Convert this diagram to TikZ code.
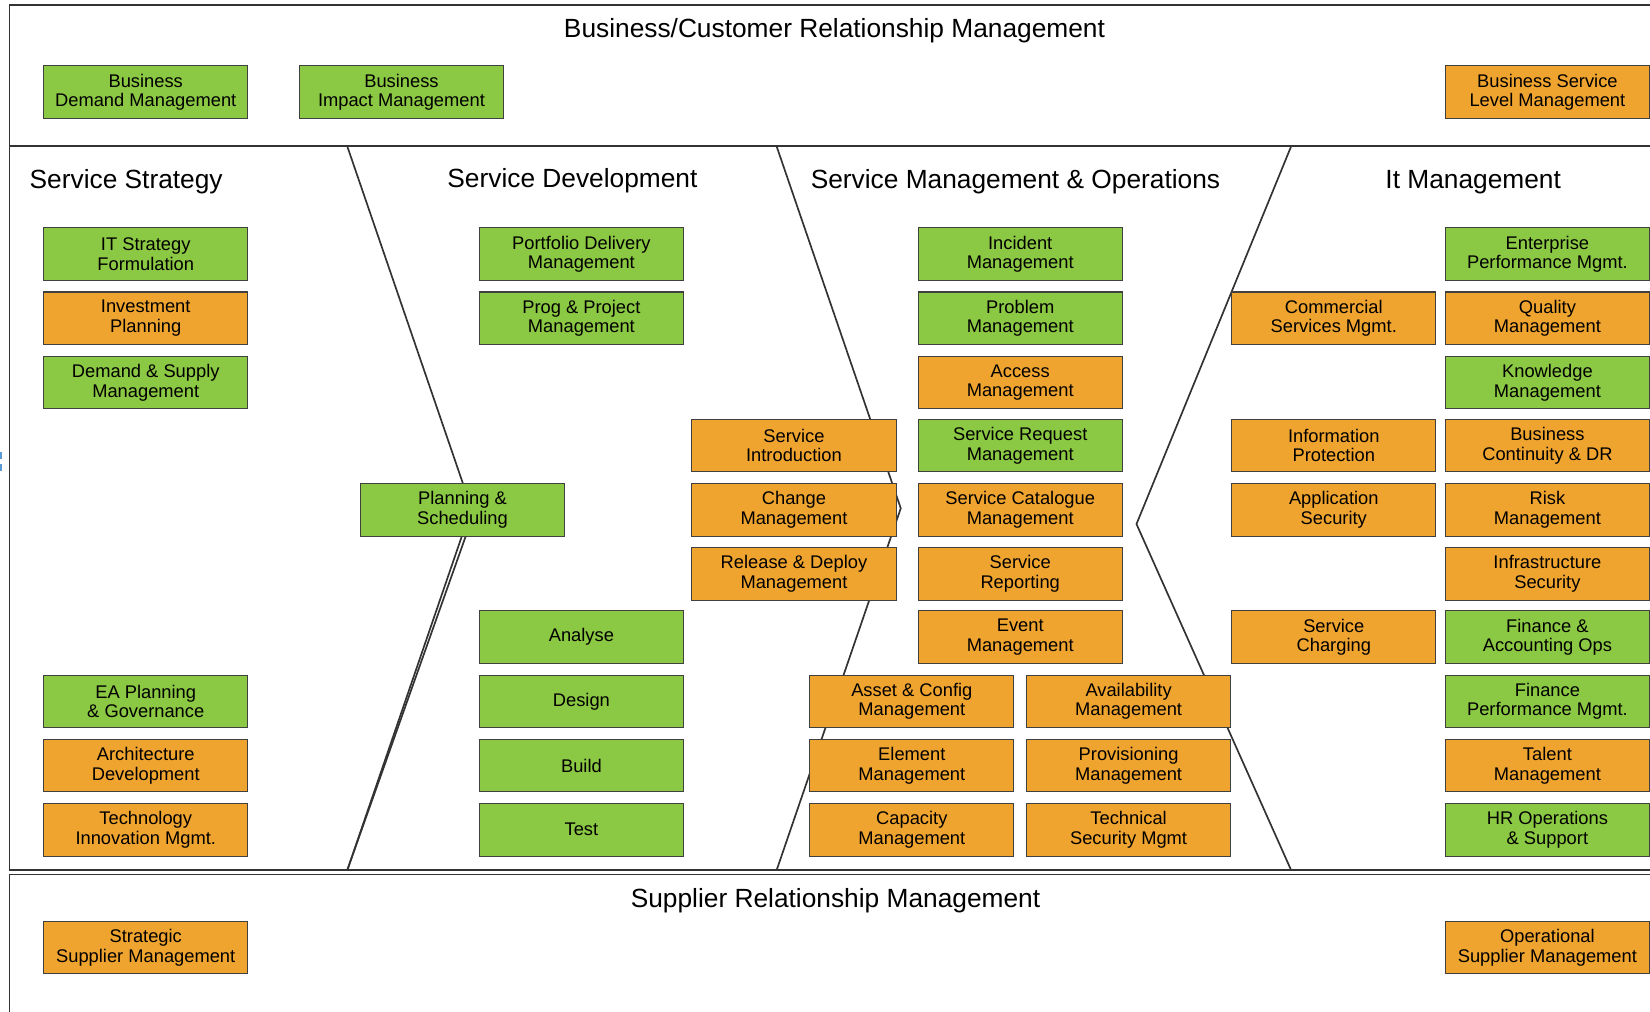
\documentclass[tikz,border=0pt]{standalone}
\usepackage{fontspec}
\setmainfont{Liberation Sans}
\definecolor{boxgreen}{HTML}{8BC843}
\definecolor{boxorange}{HTML}{F0A430}
\definecolor{boxline}{HTML}{404040}
\definecolor{frameline}{HTML}{333333}
\definecolor{selblue}{HTML}{5B9BD5}
\tikzset{
  itbox/.style={draw=boxline, line width=1pt, minimum width=194pt, minimum height=50pt,
    inner sep=0pt, align=center, anchor=north west, text=black,
    font=\fontsize{17.4}{18.6}\selectfont},
  gbox/.style={itbox, fill=boxgreen},
  obox/.style={itbox, fill=boxorange},
  frame/.style={draw=frameline, line width=1.6pt},
  divider/.style={draw=frameline, line width=1.6pt, line join=miter},
  heading/.style={font=\fontsize{25}{28}\selectfont, text=black, inner sep=0pt}
}
\begin{document}
\begin{tikzpicture}[x=1pt,y=-1pt]
\useasboundingbox (0,0) rectangle (1568,961);
\clip (0,0) rectangle (1568,961);
\fill[white] (0,0) rectangle (1568,961);
% frames
\draw[frame] (9,5) rectangle (1600,139);
\draw[frame] (9,139) rectangle (1600,827);
\draw[frame] (9,831) rectangle (1600,1000);
% selection marks
\fill[selblue] (0,430) rectangle (2,436);
\fill[selblue] (0,441) rectangle (2,448);
% dividers
\coordinate (d1t) at (330,139); \coordinate (d1a) at (448,483); \coordinate (d1b) at (330,827);
\coordinate (d1c) at (452,483);
\coordinate (d2t) at (738,139); \coordinate (d2a) at (856,483); \coordinate (d2b) at (738,827);
\coordinate (d3t) at (1227,139); \coordinate (d3a) at (1080,498); \coordinate (d3b) at (1227,827);
\draw[divider] (d1t) -- (d1a) -- (d1b);
\draw[divider] (d1c) -- (d1b);
\draw[divider] (d2t) -- (d2a) -- (d2b);
\draw[divider] (d3t) -- (d3a) -- (d3b);
% headings
\node[heading] (h0) at (793,29) {Business/Customer Relationship Management};
\node[heading, anchor=west] (h1) at (28,172.5) {Service Strategy};
\node[heading] (h2) at (544,171.5) {Service Development};
\node[heading] (h3) at (965,172.5) {Service Management \& Operations};
\node[heading] (h4) at (1400,173.5) {It Management};
\node[heading] (h5) at (794,855.5) {Supplier Relationship Management};
% top row
\node[gbox] (bdm) at (41,62) {Business\\Demand Management};
\node[gbox] (bim) at (284,62) {Business\\Impact Management};
\node[obox] (bslm) at (1373,62) {Business Service\\Level Management};
% column A
\node[gbox] (itsf) at (41,216) {IT Strategy\\Formulation};
\node[obox] (invp) at (41,277) {Investment\\Planning};
\node[gbox] (dsm) at (41,338) {Demand \& Supply\\Management};
\node[gbox] (eap) at (41,641) {EA Planning\\\& Governance};
\node[obox] (archd) at (41,702) {Architecture\\Development};
\node[obox] (tim) at (41,763) {Technology\\Innovation Mgmt.};
\node[obox] (ssm) at (41,875) {Strategic\\Supplier Management};
% planning
\node[gbox] (ps) at (342,459) {Planning \&\\Scheduling};
% column C
\node[gbox] (pdm) at (455,216) {Portfolio Delivery\\Management};
\node[gbox] (ppm) at (455,277) {Prog \& Project\\Management};
\node[gbox] (ana) at (455,580) {Analyse};
\node[gbox] (des) at (455,641) {Design};
\node[gbox] (bld) at (455,702) {Build};
\node[gbox] (tst) at (455,763) {Test};
% column D
\node[obox] (sint) at (657,398) {Service\\Introduction};
\node[obox] (chm) at (657,459) {Change\\Management};
\node[obox] (rdm) at (657,520) {Release \& Deploy\\Management};
% column E
\node[gbox] (incm) at (872,216) {Incident\\Management};
\node[gbox] (prbm) at (872,277) {Problem\\Management};
\node[obox] (accm) at (872,338) {Access\\Management};
\node[gbox] (srm) at (872,398) {Service Request\\Management};
\node[obox] (scm) at (872,459) {Service Catalogue\\Management};
\node[obox] (srep) at (872,520) {Service\\Reporting};
\node[obox] (evm) at (872,580) {Event\\Management};
% column F
\node[obox] (acm) at (769,641) {Asset \& Config\\Management};
\node[obox] (elm) at (769,702) {Element\\Management};
\node[obox] (capm) at (769,763) {Capacity\\Management};
% column G
\node[obox] (avm) at (975,641) {Availability\\Management};
\node[obox] (prvm) at (975,702) {Provisioning\\Management};
\node[obox] (tsm) at (975,763) {Technical\\Security Mgmt};
% column H
\node[obox] (csm) at (1170,277) {Commercial\\Services Mgmt.};
\node[obox] (ip) at (1170,398) {Information\\Protection};
\node[obox] (aps) at (1170,459) {Application\\Security};
\node[obox] (sch) at (1170,580) {Service\\Charging};
% column I
\node[gbox] (epm) at (1373,216) {Enterprise\\Performance Mgmt.};
\node[obox] (qm) at (1373,277) {Quality\\Management};
\node[gbox] (km) at (1373,338) {Knowledge\\Management};
\node[obox] (bcdr) at (1373,398) {Business\\Continuity \& DR};
\node[obox] (rm) at (1373,459) {Risk\\Management};
\node[obox] (infs) at (1373,520) {Infrastructure\\Security};
\node[gbox] (fao) at (1373,580) {Finance \&\\Accounting Ops};
\node[gbox] (fpm) at (1373,641) {Finance\\Performance Mgmt.};
\node[obox] (tlm) at (1373,702) {Talent\\Management};
\node[gbox] (hros) at (1373,763) {HR Operations\\\& Support};
\node[obox] (osm) at (1373,875) {Operational\\Supplier Management};
\end{tikzpicture}
\end{document}
